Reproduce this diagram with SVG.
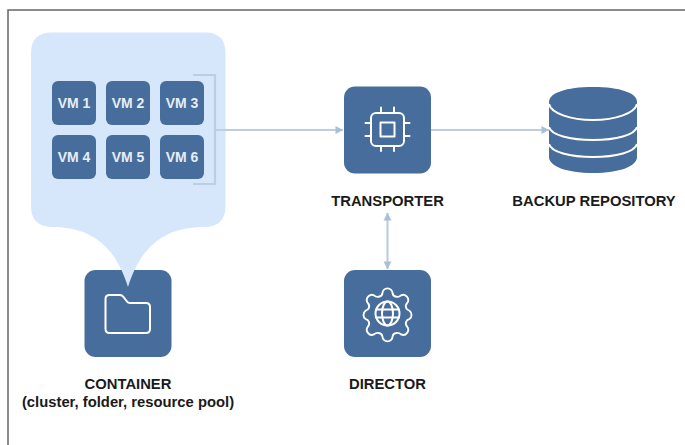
<svg xmlns="http://www.w3.org/2000/svg" width="685" height="445" viewBox="0 0 685 445">
<defs>
<marker id="ah" markerWidth="9" markerHeight="9" refX="8" refY="4.500" orient="auto-start-reverse" markerUnits="userSpaceOnUse"><path d="M0.500 0.500L8 4.500L0.500 8.500Z" fill="#a9bfd6"/></marker>
</defs>
<style>
.box{fill:#466d9b}
.vm{fill:#466d9b}
.vt{font:bold 14px "Liberation Sans",Arial,sans-serif;fill:#e6edf5;text-anchor:middle}
.lb{font:bold 14.800px "Liberation Sans",Arial,sans-serif;fill:#1a1a1a;text-anchor:middle}
.ic{fill:none;stroke:#fff;stroke-width:2;stroke-linecap:round;stroke-linejoin:round}
.cn{fill:none;stroke:#bccfe2;stroke-width:2.200}
</style>
<rect width="685" height="445" fill="#fff"/>
<path d="M685 10H8V445" fill="none" stroke="#666" stroke-width="1.500"/>
<g id="container"><rect class="box" x="84.500" y="270" width="87" height="87" rx="11"/>
<path class="ic" d="M105.500 329V299Q105.500 295 109.500 295H120Q122 295 123.500 297L127 301.500Q128 303 130 303H146Q150 303 150 307V329Q150 333 146 333H109.500Q105.500 333 105.500 329Z"/>
<text class="lb" x="128" y="389">CONTAINER</text><text class="lb" x="128" y="406.500">(cluster, folder, resource pool)</text></g>
<g id="container-bubble"><path d="M52 32.500H205Q225.500 32.500 225.500 53V206Q225.500 227 204 227C166 227 141 245 128 287C115 245 90 227 53 227Q31 227 31 206V53Q31 32.500 52 32.500Z" fill="#d6e7fc"/></g>
<g id="connectors">
<path class="cn" d="M193 75H215V184H193"/>
<path class="cn" d="M215 130H343" marker-end="url(#ah)"/>
<path class="cn" d="M431 130H549" marker-end="url(#ah)"/>
<path class="cn" d="M387.500 213V269" marker-start="url(#ah)" marker-end="url(#ah)"/>
</g>
<g id="vm1"><rect class="vm" x="52" y="81" width="44" height="44" rx="6"/><text class="vt" x="74" y="108">VM 1</text></g>
<g id="vm2"><rect class="vm" x="106" y="81" width="44" height="44" rx="6"/><text class="vt" x="128" y="108">VM 2</text></g>
<g id="vm3"><rect class="vm" x="160" y="81" width="44" height="44" rx="6"/><text class="vt" x="182" y="108">VM 3</text></g>
<g id="vm4"><rect class="vm" x="52" y="135" width="44" height="44" rx="6"/><text class="vt" x="74" y="162">VM 4</text></g>
<g id="vm5"><rect class="vm" x="106" y="135" width="44" height="44" rx="6"/><text class="vt" x="128" y="162">VM 5</text></g>
<g id="vm6"><rect class="vm" x="160" y="135" width="44" height="44" rx="6"/><text class="vt" x="182" y="162">VM 6</text></g>
<g id="transporter"><rect class="box" x="344" y="86.500" width="87" height="87" rx="11"/>
<rect class="ic" x="371" y="113" width="33" height="33" rx="5"/><rect class="ic" x="380.500" y="122.500" width="14" height="14"/>
<path class="ic" d="M381 107.500v5M394 107.500v5M381 146v5M394 146v5M365.500 123h5M365.500 136h5M404.500 123h5M404.500 136h5"/>
<text class="lb" x="387.500" y="205.500">TRANSPORTER</text></g>
<g id="backup-repository">
<path d="M549 102V157C549 166 566 173 593 173S637 166 637 157V102Z" fill="#466d9b"/>
<path d="M549 102C549 93 566 87 593 87S637 93 637 102 619 118 593 118 549 111 549 102Z" fill="#466d9b"/>
<path d="M549 104C551 113 570 120 593 120S635 113 637 104M549 127C551 135 570 140 593 140S635 135 637 127M549 144C551 152 570 157 593 157S635 152 637 144" fill="none" stroke="#fff" stroke-width="2"/>
<text class="lb" x="594" y="205.500">BACKUP REPOSITORY</text></g>
<g id="director"><rect class="box" x="344" y="270" width="87" height="87" rx="11"/>
<path class="ic" d="M382 292a5.500 5.500 0 0 1 11 0q.5 3 4 3.500 3 .5 5-1.500a5.500 5.500 0 0 1 6.500 8.500q-2 2-1 5 1 2.500 3.500 3a5.500 5.500 0 0 1 0 9q-2.500 .5-3.500 3-1 3 1 5a5.500 5.500 0 0 1-6.500 8.500q-2-2-5-1.500-3.500 .5-4 3.500a5.500 5.500 0 0 1-11 0q-.5-3-4-3.500-3-.5-5 1.500a5.500 5.500 0 0 1-6.500-8.500q2-2 1-5-1-2.500-3.500-3a5.500 5.500 0 0 1 0-9q2.500-.5 3.500-3 1-3-1-5a5.500 5.500 0 0 1 6.500-8.500q2 2 5 1.500 3.500-.5 4-3.500Z" transform="translate(387.500 313.500) scale(.93) translate(-387.500 -313.500)"/>
<circle class="ic" cx="387.500" cy="313.500" r="12"/><ellipse class="ic" cx="387.500" cy="313.500" rx="5.500" ry="12"/><path class="ic" d="M376 309.500H399M376 317.500H399"/>
<text class="lb" x="387.500" y="389">DIRECTOR</text></g>
</svg>
